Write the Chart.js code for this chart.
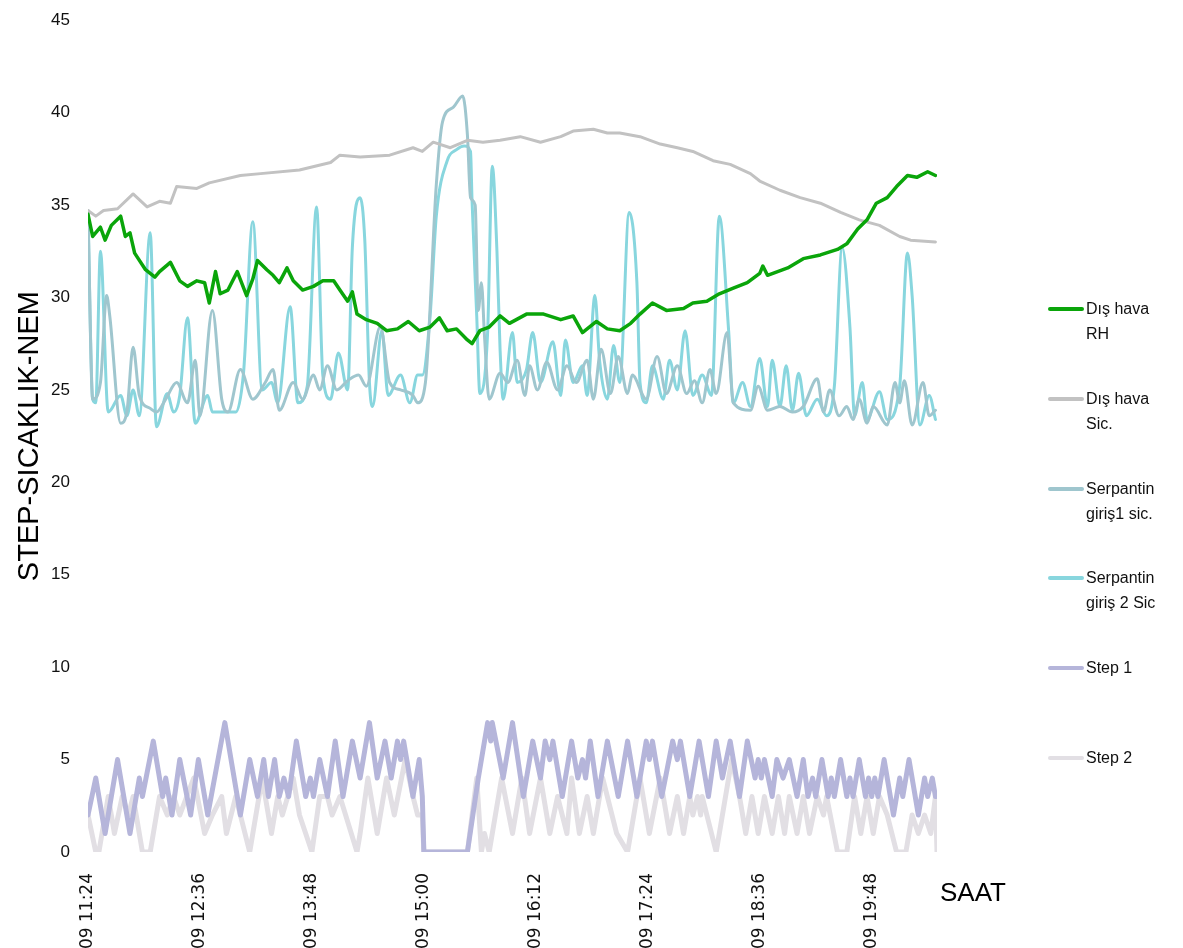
<!DOCTYPE html>
<html>
<head>
<meta charset="utf-8">
<script src="https://cdn.jsdelivr.net/npm/chart.js@4.4.1/dist/chart.umd.min.js"></script>
<style>
    html, body { margin: 0; padding: 0; background: #fff; overflow: hidden; }
    #wrap { position: relative; width: 1183px; height: 948px; }
    #wrap canvas { position: absolute; left: 0; top: 0; }
    #legend { position: absolute; left: 1048px; top: 296px; font-family: 'Liberation Sans', Arial, sans-serif; font-size: 16px; color: #111; }
    .item { position: absolute; left: 0; width: 130px; display: flex; align-items: flex-start; }
    .swatch { width: 36px; height: 4px; margin-top: 11px; margin-right: 2px; border-radius: 2px; flex: none; }
    .txt { line-height: 25px; white-space: pre-line; }
    #xtitle { position: absolute; left: 940px; top: 877px; font-family: 'Liberation Sans', Arial, sans-serif; font-size: 26px; line-height: 30px; color: #000; }
</style>
</head>
<body>
<div id="wrap">
    <canvas id="chart" width="1183" height="948"></canvas>
    <div id="legend"></div>
    <div id="xtitle">SAAT</div>
</div>
<script>
// x = minutes after 11:24
const TICK_MINUTES = [0, 72, 144, 216, 288, 360, 432, 504];
const TICK_LABELS = [
    '01.08.2009 11:24', '01.08.2009 12:36', '01.08.2009 13:48', '01.08.2009 15:00',
    '01.08.2009 16:12', '01.08.2009 17:24', '01.08.2009 18:36', '01.08.2009 19:48'
];

const LABELS = ['Dış hava\nRH', 'Dış hava\nSic.', 'Serpantin\ngiriş1 sic.', 'Serpantin\ngiriş 2 Sic', 'Step 1', 'Step 2'];
const COLORS = ['#0aa50a', '#c2c2c2', '#9fc6ce', '#88d6de', '#b5b5da', '#e2dfe4'];

// Dış hava RH
const RH_T = [0,3,8,11,15,21,24,27,30,37, 43,46,53,59,64,70,75,78,82,85,
    90,96,102,106,109,115,119,123,128,132, 138,145,151,158,162,167,170,173,179,186,
    192,199,206,213,220,226,231,237,244,247, 252,258,265,271,282,293,304,312,318,327,
    334,342,349,355,363,372,383,389,398,406, 415,424,432,434,437,450,460,471,482,488,
    495,501,507,514,520,527,533,540,545];
const RH_V = [34.5,33.3,33.8,33.1,33.9,34.4,33.3,33.5,32.4,31.5, 31.1,31.4,31.9,30.9,30.6,30.9,30.8,29.7,31.4,30.2,
    30.4,31.4,30.1,31.0,32.0,31.5,31.2,30.8,31.6,30.9, 30.4,30.6,30.9,30.9,30.4,29.8,30.3,29.1,28.8,28.6,
    28.2,28.3,28.7,28.2,28.4,28.9,28.2,28.3,27.7,27.5, 28.2,28.4,29.0,28.6,29.1,29.1,28.8,29.0,28.1,28.7,
    28.3,28.2,28.6,29.1,29.7,29.3,29.4,29.7,29.8,30.2, 30.5,30.8,31.3,31.7,31.2,31.6,32.1,32.3,32.6,32.9,
    33.7,34.2,35.1,35.4,36.0,36.6,36.5,36.8,36.6];

// Dış hava Sic.
const SIC_T = [0,5,10,19,29,38,46,53,57,70, 78,98,111,136,156,162,175,194,209,215,
    222,233,244,254,265,278,291,304,312,325, 334,342,355,368,379,389,402,413,426,432,
    445,458,471,484,496,509,522,529,545];
const SIC_V = [34.7,34.4,34.7,34.8,35.6,34.9,35.2,35.1,36.0,35.9, 36.2,36.6,36.7,36.9,37.3,37.7,37.6,37.7,38.1,37.9,
    38.4,38.1,38.5,38.4,38.5,38.7,38.4,38.7,39.0,39.1, 38.9,38.9,38.7,38.3,38.1,37.9,37.4,37.2,36.7,36.3,
    35.8,35.4,35.1,34.6,34.2,33.9,33.3,33.1,33.0];

// Serpantin giriş1 sic.
const SERP1_T = [0,3,8,12,14,21,25,29,33,40, 44,50,57,64,69,72,80,86,90,98,
    106,114,119,123,132,138,145,149,154,160, 167,174,179,188,194,201,209,212,217,224,
    228,235,241,244,246,249,251,253,255,258, 265,270,276,281,284,289,295,302,308,314,
    321,325,330,336,341,347,350,359,366,372, 379,385,390,395,400,404,411,415,426,431,
    437,445,453,460,469,473,477,483,488,492, 496,501,505,514,519,522,525,530,537,541,545];
const SERP1_V = [34.7,24.5,25.4,30.1,29.0,23.2,23.8,27.3,24.7,24.0, 23.8,24.5,25.4,24.3,26.6,23.6,29.3,24.5,23.8,26.1,
    24.5,25.4,26.1,23.9,25.4,24.5,25.8,25.0,26.3,25.0, 25.5,25.8,25.2,28.4,25.4,25.0,24.7,24.3,25.4,36.1,
    39.5,40.3,40.9,38.8,35.4,35.0,29.3,30.8,27.9,24.5, 25.9,25.4,26.6,24.7,26.3,25.0,26.5,25.0,26.3,25.4,
    26.6,24.5,27.2,24.8,26.8,24.8,25.8,24.5,26.8,24.8, 26.3,24.8,25.5,24.3,26.1,24.8,28.1,24.3,23.9,25.2,
    23.9,24.1,23.8,24.1,25.6,23.8,25.0,23.6,24.1,23.4, 24.5,23.2,24.1,23.1,25.4,24.3,25.5,23.1,25.4,23.6,23.9];

// Serpantin giriş 2 Sic
const SERP2_T = [0,3,5,8,13,21,25,29,33,40, 44,51,55,59,64,69,77,80,95,100,
    106,112,118,122,130,135,141,147,151,156, 161,167,170,175,178,181,183,189,193,201,
    207,212,215,220,224,231,237,242,246,247, 250,252,257,260,263,265,267,273,276,282,
    286,291,299,304,307,312,318,321,326,329, 334,338,342,348,353,355,359,363,370,374,
    379,384,389,395,401,406,412,415,421,426, 432,437,440,445,449,453,457,462,469,475,
    480,485,490,493,498,501,509,514,522,527, 530,535,541,545];
const SERP2_V = [34.4,24.5,24.3,32.5,23.8,24.7,23.6,25.0,23.6,33.5, 23.0,24.8,23.8,24.7,28.9,23.2,24.7,23.8,23.8,25.9,
    34.1,25.0,25.4,24.3,29.5,24.3,25.2,34.9,25.8,24.5, 27.0,25.0,32.7,35.4,33.1,25.4,24.1,28.2,24.7,25.8,
    24.3,25.8,25.8,29.0,34.4,37.4,38.0,38.2,37.9,35.2, 29.0,24.8,28.1,37.1,32.5,27.2,24.5,28.1,25.4,26.1,
    28.1,25.4,27.6,24.7,27.7,25.4,26.3,24.7,30.1,26.6, 24.5,27.4,25.4,34.6,30.8,25.4,24.3,26.3,24.5,26.6,
    25.0,28.2,24.7,25.8,24.7,34.4,28.2,24.3,25.4,24.1, 26.7,24.1,26.6,24.1,26.3,23.9,25.9,23.6,24.5,23.6,
    25.2,32.7,28.4,23.6,25.4,23.4,24.9,23.4,25.2,32.4, 30.1,23.1,24.7,23.4];

// Step 1
const STEP1_T = [0,5,11,19,27,33,35,42,48,50, 54,59,66,71,77,88,98,104,109,113,
    116,120,123,126,129,134,140,143,145,149, 154,159,164,170,175,181,186,191,195,199,
    201,203,209,213,215,216,244,251,257,259, 260,267,273,280,286,291,294,297,299,305,
    311,315,318,320,323,328,334,341,347,353, 359,361,363,369,376,379,381,387,393,399,
    404,408,413,419,424,429,431,433,435,440, 443,447,451,456,460,463,466,468,472,476,
    478,480,484,488,490,492,496,500,502,504, 506,508,512,518,522,524,528,534,538,540,
    543,545];
const STEP1_V = [2,4,1,5,1,4,3,6,3,4, 2,5,2,5,2,7,2,5,3,5,
    3,5,3,4,3,6,3,4,3,5, 3,6,3,6,4,7,4,6,4,6,
    5,6,3,5,3,0,0,4,7,6, 7,4,7,3,6,4,6,5,6,3,
    6,4,5,4,6,3,6,3,6,3, 6,5,6,3,6,5,6,3,6,3,
    6,4,6,3,6,4,5,4,5,3, 5,4,5,3,5,3,4,3,5,3,
    4,3,5,3,4,3,5,3,4,3, 4,3,5,2,4,3,5,2,4,3,
    4,3];

// Step 2
const STEP2_T = [0,5,7,13,17,22,26,29,35,40, 46,51,55,59,68,75,80,86,89,95,
    104,112,118,122,125,132,136,144,149,154, 157,162,173,175,180,186,192,197,204,209,
    212,215,216,244,250,253,255,258,266,273, 279,284,291,297,302,308,311,316,321,325,
    331,340,347,355,361,368,374,379,383,387, 389,392,394,395,404,414,419,423,427,431,
    435,440,444,448,451,456,460,464,469,473, 475,482,488,493,497,501,505,509,514,520,
    526,530,534,538,542,545,546];
const STEP2_V = [2,0,0,3,1,3,2,3,0,0, 3,2,3,2,4,1,2,3,1,3,
    0,4,1,3,2,4,2,0,3,3, 2,3,0,1,4,1,4,2,5,3,
    2,2,0,0,4,0,1,0,4,1, 4,1,4,1,3,1,4,1,3,1,
    4,1,0,4,1,4,1,3,1,3, 2,3,2,3,0,5,3,1,3,1,
    3,1,3,1,3,1,3,1,3,2, 3,0,0,3,1,3,1,3,2,0,
    0,2,1,2,1,3,0];

// [times, values, line width, smooth]
const SERIES = [
    [RH_T, RH_V, 3.5, false],
    [SIC_T, SIC_V, 3, false],
    [SERP1_T, SERP1_V, 3, true],
    [SERP2_T, SERP2_V, 3, true],
    [STEP1_T, STEP1_V, 5, false],
    [STEP2_T, STEP2_V, 5, false]
];

function make_datasets() {
    return SERIES.map(([t, v, w, smooth], i) => ({
        label: LABELS[i],
        data: t.map((m, j) => ({ x: m, y: v[j] })),
        borderColor: COLORS[i],
        backgroundColor: COLORS[i],
        borderWidth: w,
        pointRadius: 0,
        cubicInterpolationMode: smooth ? 'monotone' : 'default',
        tension: 0,
        borderJoinStyle: 'round',
        borderCapStyle: 'round'
    }));
}

function make_legend() {
    const box = document.getElementById('legend');
    LABELS.forEach((label, i) => {
        const item = document.createElement('div');
        item.className = 'item';
        item.style.top = Math.round(i * 89.8) + 'px';
        const sw = document.createElement('div');
        sw.className = 'swatch';
        sw.style.background = COLORS[i];
        const tx = document.createElement('div');
        tx.className = 'txt';
        tx.textContent = label;
        item.appendChild(sw);
        item.appendChild(tx);
        box.appendChild(item);
    });
}

window.onload = () => {
    make_legend();
    new Chart(document.getElementById('chart'), {
        type: 'line',
        data: { datasets: make_datasets() },
        options: {
            responsive: false,
            animation: false,
            layout: { padding: { top: 9, right: 246, left: 0, bottom: 0 } },
            plugins: { legend: { display: false }, tooltip: { enabled: false } },
            scales: {
                x: {
                    type: 'linear',
                    min: 0,
                    max: 546,
                    grid: { display: false },
                    border: { display: false },
                    afterFit: scale => { scale.height = 96; },
                    afterBuildTicks: scale => {
                        scale.ticks = TICK_MINUTES.map(v => ({ value: v }));
                    },
                    ticks: {
                        autoSkip: false,
                        minRotation: 90,
                        maxRotation: 90,
                        padding: 13,
                        color: '#111',
                        font: { family: 'DejaVu Sans', size: 17 },
                        callback: v => TICK_LABELS[TICK_MINUTES.indexOf(v)]
                    }
                },
                y: {
                    min: 0,
                    max: 45,
                    grid: { display: false },
                    border: { display: false },
                    afterFit: scale => { scale.width = 88; },
                    ticks: {
                        stepSize: 5,
                        padding: 10,
                        color: '#111',
                        font: { family: 'Liberation Sans', size: 17 }
                    },
                    title: {
                        display: true,
                        text: 'STEP-SICAKLIK-NEM',
                        color: '#000',
                        padding: { top: 13, bottom: 0 },
                        font: { family: 'Liberation Sans', size: 29 }
                    }
                }
            }
        }
    });
};
</script>
</body>
</html>
